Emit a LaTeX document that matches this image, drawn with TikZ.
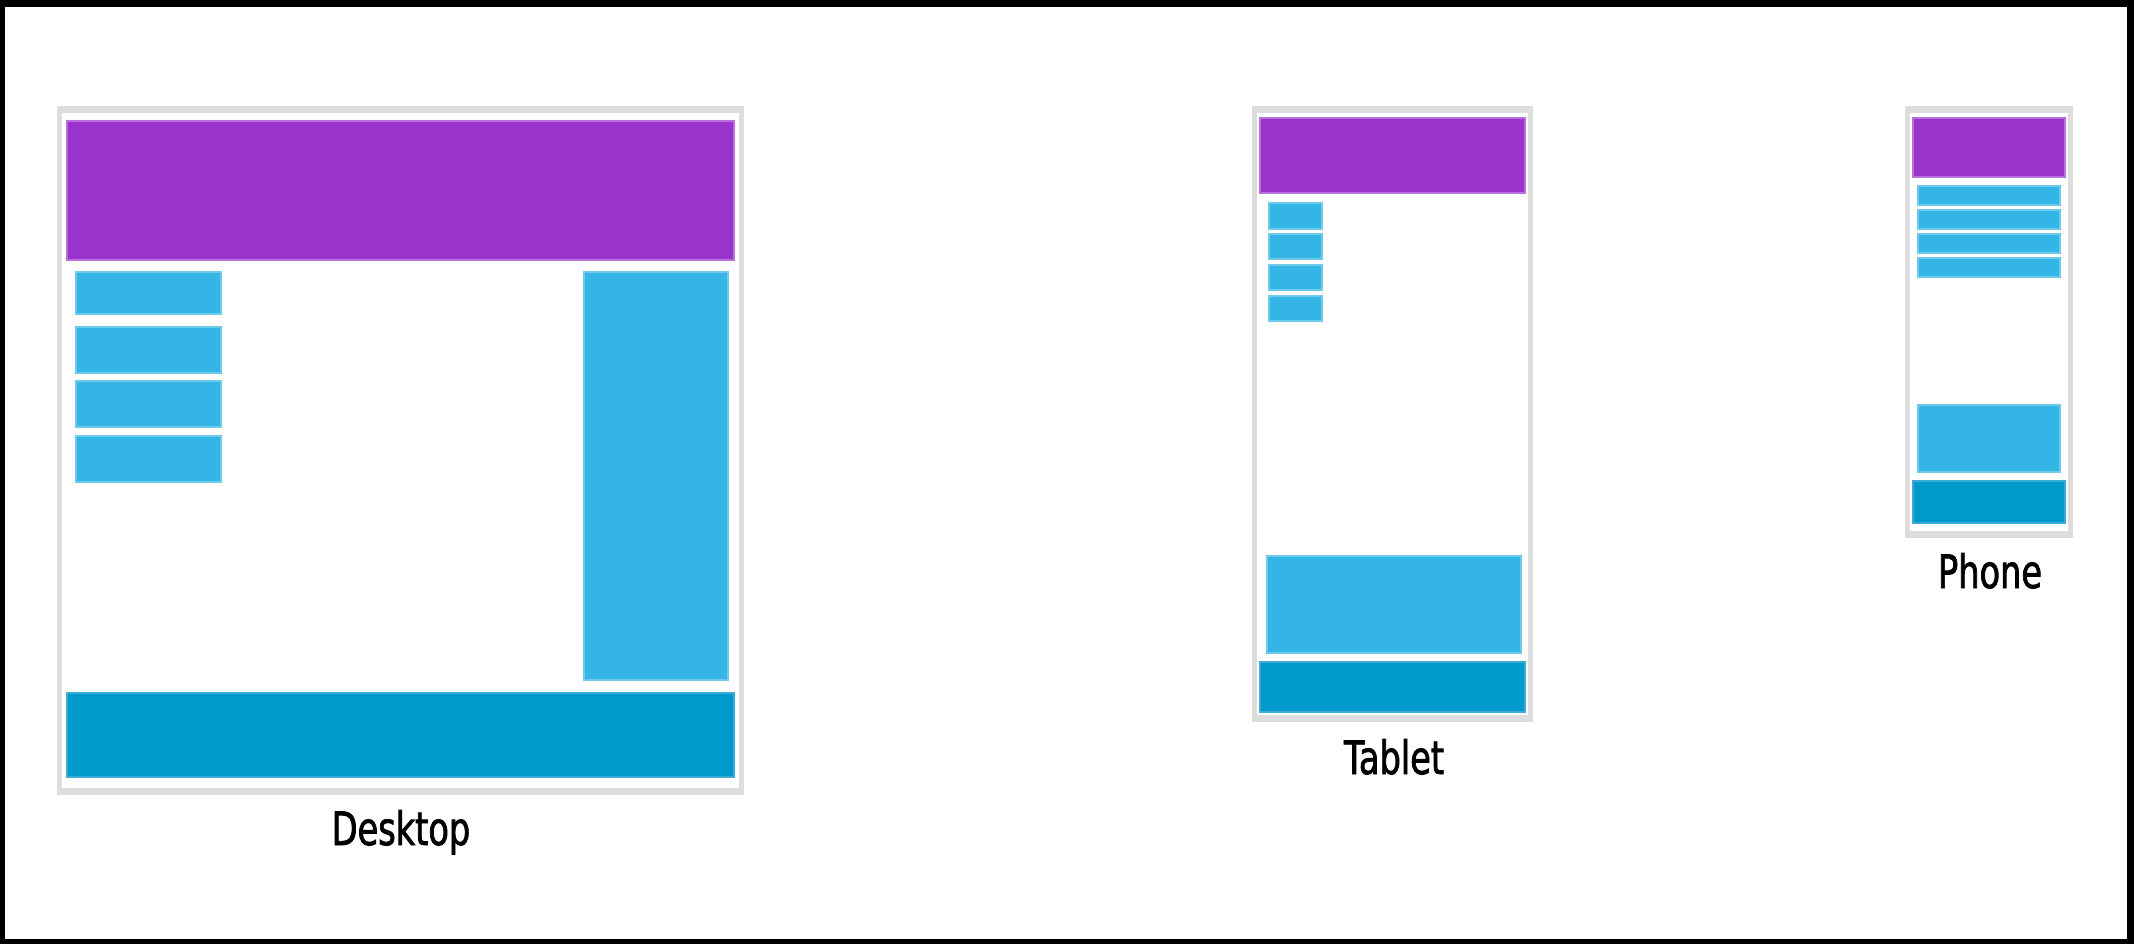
\documentclass[tikz,border=0pt]{standalone}
\usepackage{fontspec}
\newfontfamily\lblfont[FakeStretch=0.73,FakeBold=1.6]{DejaVu Sans}
\usetikzlibrary{calc}
\definecolor{cPurple}{HTML}{9933CC}
\definecolor{cPurpleEdge}{RGB}{185,112,221}
\definecolor{cBlue}{HTML}{33B5E5}
\definecolor{cBlueEdge}{RGB}{112,202,236}
\definecolor{cDark}{HTML}{0099CC}
\definecolor{cDarkEdge}{RGB}{60,172,214}
\definecolor{cFrame}{RGB}{221,221,221}
% #1 colour, (#2,#3) top-left, (#4,#5) bottom-right, in pixels (y down)
\newcommand\uibox[5]{%
  \fill[#1Edge] (#2,#3) rectangle (#4,#5);
  \fill[#1] ($(#2,#3)+(2,2)$) rectangle ($(#4,#5)+(-2,-2)$);}
\newcommand\uiframe[4]{%
  \fill[cFrame] (#1,#2) rectangle (#3,#4);
  \fill[white] ($(#1,#2)+(5,7)$) rectangle ($(#3,#4)+(-5,-7)$);}
\tikzset{lbl/.style={font=\lblfont\fontsize{23pt}{27pt}\selectfont, inner sep=0pt, anchor=base, text=black}}
\begin{document}
\begin{tikzpicture}[x=0.5pt,y=-0.5pt]
% outer black border
\fill[black] (0,0) rectangle (2134,944);
\fill[white] (5,7) rectangle (2127,939);

% ---------------- Desktop ----------------
\uiframe{57}{106}{744}{795}
\uibox{cPurple}{66}{120}{735}{261}
\uibox{cBlue}{75}{271}{222}{315}
\uibox{cBlue}{75}{326}{222}{374}
\uibox{cBlue}{75}{380}{222}{428}
\uibox{cBlue}{75}{435}{222}{483}
\uibox{cBlue}{583}{271}{729}{681}
\uibox{cDark}{66}{692}{735}{778}
\node[lbl] (desktop) at (401,845) {Desktop};

% ---------------- Tablet ----------------
\uiframe{1252}{106}{1533}{722}
\uibox{cPurple}{1259}{117}{1526}{194}
\uibox{cBlue}{1268}{202}{1323}{230}
\uibox{cBlue}{1268}{233}{1323}{260}
\uibox{cBlue}{1268}{264}{1323}{291}
\uibox{cBlue}{1268}{295}{1323}{322}
\uibox{cBlue}{1266}{555}{1522}{654}
\uibox{cDark}{1259}{661}{1526}{713}
\node[lbl] (tablet) at (1394,774) {Tablet};

% ---------------- Phone ----------------
\uiframe{1905}{106}{2073}{538}
\uibox{cPurple}{1912}{117}{2066}{178}
\uibox{cBlue}{1917}{185}{2061}{206}
\uibox{cBlue}{1917}{209}{2061}{230}
\uibox{cBlue}{1917}{233}{2061}{254}
\uibox{cBlue}{1917}{257}{2061}{278}
\uibox{cBlue}{1917}{404}{2061}{473}
\uibox{cDark}{1912}{480}{2066}{524}
\node[lbl] (phone) at (1990,588) {Phone};
\end{tikzpicture}
\end{document}
